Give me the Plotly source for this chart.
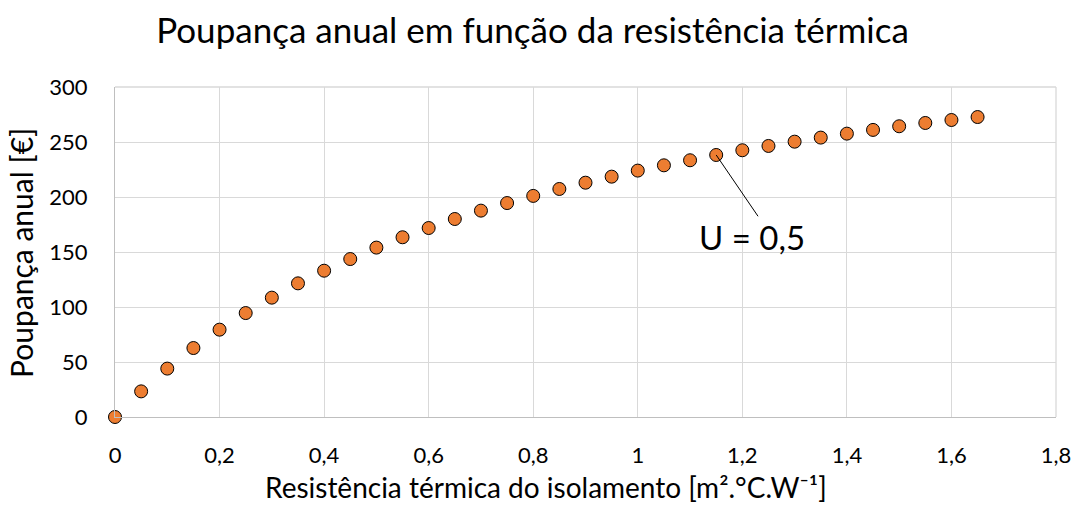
import plotly.graph_objects as go

resistencia = [0, 0.05, 0.1, 0.15, 0.2, 0.25, 0.3, 0.35, 0.4, 0.45, 0.5, 0.55,
               0.6, 0.65, 0.7, 0.75, 0.8, 0.85, 0.9, 0.95, 1.0, 1.05, 1.1, 1.15,
               1.2, 1.25, 1.3, 1.35, 1.4, 1.45, 1.5, 1.55, 1.6, 1.65]
poupanca = [0, 23.3, 44, 62.7, 79.4, 94.5, 108.5, 121.5, 133, 143.6, 154, 163.4,
            171.8, 180, 187.6, 194.5, 201, 207.3, 213, 218.5, 224, 228.8, 233.4, 238.2,
            242.5, 246.4, 250.3, 254, 257.6, 261, 264.3, 267.3, 270, 272.7]
x_ticks = [0, 0.2, 0.4, 0.6, 0.8, 1.0, 1.2, 1.4, 1.6, 1.8]
x_tick_labels = ["0", "0,2", "0,4", "0,6", "0,8", "1", "1,2", "1,4", "1,6", "1,8"]
y_ticks = [0, 50, 100, 150, 200, 250, 300]
annot_index = 23
annot_text = "U = 0,5"
title_text = "Poupança anual em função da resistência térmica"
x_title = "Resistência térmica do isolamento [m².°C.W⁻¹]"
y_title = "Poupança anual [€]"

FONT = "Lato"
BLACK = "#000000"

fig = go.Figure()
fig.add_trace(go.Scatter(
    x=resistencia, y=poupanca, mode="markers",
    marker=dict(size=13, color="#ED7D31", line=dict(color=BLACK, width=1)),
    showlegend=False, cliponaxis=False,
))

fig.add_shape(type="line", xref="x", yref="y",
              x0=resistencia[annot_index], y0=poupanca[annot_index],
              x1=1.23, y1=182.5, line=dict(color=BLACK, width=1))
fig.add_annotation(x=1.219, y=163.5, xref="x", yref="y", text=annot_text,
                   showarrow=False, font=dict(family=FONT, size=33, color=BLACK))

# axis titles
fig.add_annotation(x=0.458, y=-0.2115, xref="paper", yref="paper", text=x_title,
                   showarrow=False, xanchor="center", yanchor="middle",
                   font=dict(family=FONT, size=28, color=BLACK))
fig.add_annotation(x=-0.1, y=0.497, xref="paper", yref="paper", text=y_title,
                   showarrow=False, xanchor="center", yanchor="middle", textangle=-90,
                   font=dict(family=FONT, size=30, color=BLACK))

fig.update_layout(
    width=1078, height=505,
    margin=dict(l=115, r=22, t=87, b=88, autoexpand=False),
    paper_bgcolor="white", plot_bgcolor="white",
    font=dict(family=FONT, color=BLACK),
    title=dict(text=title_text,
               x=0.494, xanchor="center", y=0.94, yanchor="middle",
               font=dict(family=FONT, size=35, color=BLACK)),
)
fig.update_xaxes(
    range=[0, 1.8], tickvals=x_ticks, ticktext=x_tick_labels,
    showgrid=True, gridcolor="#D9D9D9", gridwidth=1.3,
    showline=True, linecolor="#BFBFBF", linewidth=1.3,
    zeroline=False, ticks="", tickfont=dict(size=22, color=BLACK),
    ticklabelstandoff=18,
)
fig.update_yaxes(
    range=[0, 300], tickvals=y_ticks,
    showgrid=True, gridcolor="#D9D9D9", gridwidth=1.3,
    showline=True, linecolor="#BFBFBF", linewidth=1.3,
    zeroline=False, ticks="", tickfont=dict(size=22, color=BLACK),
    ticklabelstandoff=22,
)
fig.add_shape(type="line", xref="paper", yref="paper", x0=1, x1=1, y0=0, y1=1,
              line=dict(color="#D9D9D9", width=1.3), layer="below")
fig.add_shape(type="line", xref="paper", yref="paper", x0=0, x1=1, y0=1, y1=1,
              line=dict(color="#D9D9D9", width=1.3), layer="below")

fig.write_html("out.html", config={"displayModeBar": False},
               post_script="document.body.style.margin='0';")
